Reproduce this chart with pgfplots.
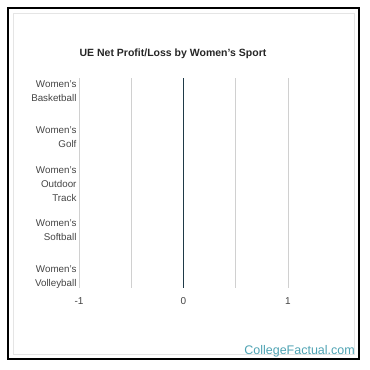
\documentclass[border=0pt]{standalone}
\usepackage{pgfplots}
\pgfplotsset{compat=1.18}
\usepackage{fontspec}
\setmainfont{Liberation Sans}
\definecolor{gridc}{HTML}{D0D0D0}
\definecolor{zeroc}{HTML}{1F3A48}
\definecolor{labc}{HTML}{444444}
\definecolor{wm}{HTML}{4FA3B3}
\begin{document}
\begin{tikzpicture}[x=1pt,y=1pt]
\path[use as bounding box] (0,0) rectangle (370,370);
\draw[black, line width=1.5pt] (8,11) rectangle (359,362);
\draw[gray!20, line width=0.5pt] (13,16) rectangle (354,357);
\node[font=\bfseries\fontsize{10.5}{12}\selectfont, text=black!85] at (173,316) {UE Net Profit/Loss by Women's Sport};
\begin{axis}[
  at={(79pt,292pt)}, anchor=north west,
  scale only axis, width=209pt, height=210pt,
  xmin=-1, xmax=1, ymin=-0.28, ymax=4.24, y dir=reverse,
  axis line style={draw=none},
  xtick={-1,0,1}, xticklabels={-1,0,1},
  minor xtick={-0.5,0.5},
  xmajorgrids, xminorgrids,
  grid style={gridc, line width=0.7pt},
  minor grid style={gridc, line width=0.7pt},
  major tick length=0pt, minor tick length=0pt,
  ytick={0,1,2,3,4},
  yticklabels={{Women's\\Basketball},{Women's\\Golf},{Women's\\Outdoor\\Track},{Women's\\Softball},{Women's\\Volleyball}},
  yticklabel style={align=right, font=\fontsize{9.8}{14}\selectfont, text=labc, xshift=1pt},
  xticklabel style={font=\fontsize{10}{12}\selectfont, text=labc, yshift=-6pt},
  /pgf/number format/assume math mode=true,
  xbar, bar width=20pt,
  clip=false,
]
\addplot[fill=zeroc, draw=none] coordinates {(0,0) (0,1) (0,2) (0,3) (0,4)};
\draw[zeroc, line width=0.9pt] (axis cs:0,-0.28) -- (axis cs:0,4.24);
\end{axis}
\node[anchor=south east, font=\fontsize{12.5}{14}\selectfont, text=wm, inner sep=0pt] at (355,13) {CollegeFactual.com};
\end{tikzpicture}
\end{document}
